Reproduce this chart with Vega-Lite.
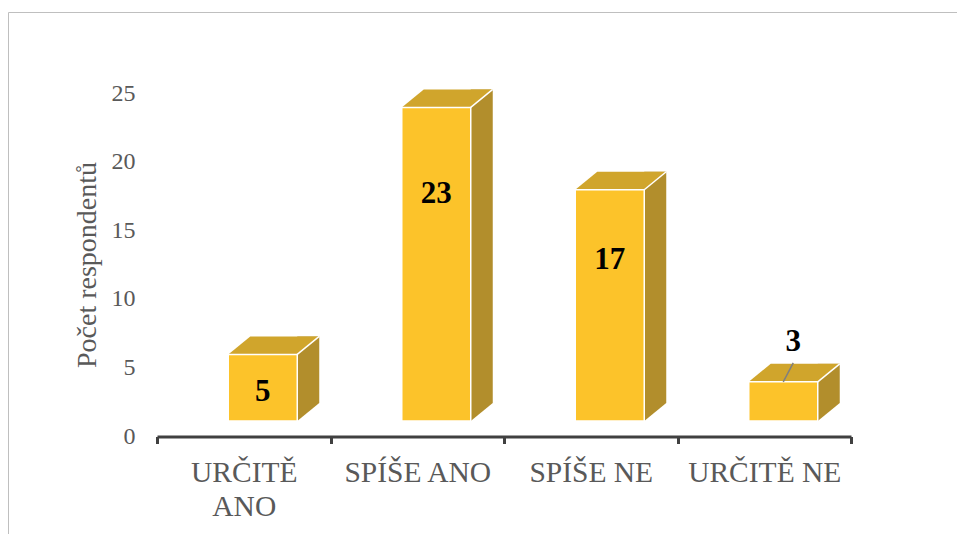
{
  "$schema": "https://vega.github.io/schema/vega-lite/v6.json",
  "width": 960,
  "height": 530,
  "autosize": "none",
  "padding": {"left": 8, "top": 12, "right": 0, "bottom": 0},
  "background": "white",
  "config": {
    "view": {"stroke": "#bfbfbf", "strokeWidth": 1},
    "font": "Liberation Serif"
  },
  "data": {
    "values": [
      {"odpoved": "URČITĚ ANO", "pocet": 5},
      {"odpoved": "SPÍŠE ANO", "pocet": 23},
      {"odpoved": "SPÍŠE NE", "pocet": 17},
      {"odpoved": "URČITĚ NE", "pocet": 3}
    ]
  },
  "encoding": {
    "x": {
      "field": "odpoved",
      "type": "nominal",
      "sort": null,
      "scale": {"range": [149, 843], "paddingInner": 0, "paddingOuter": 0},
      "axis": {
        "title": null,
        "orient": "bottom",
        "offset": -105.5,
        "domainColor": "#404040",
        "domainWidth": 3,
        "tickColor": "#404040",
        "tickWidth": 3,
        "tickSize": 7,
        "tickBand": "extent",
        "labelFont": "Liberation Serif",
        "labelFontSize": 29.5,
        "labelColor": "#595959",
        "labelPadding": 15,
        "labelLineHeight": 34,
        "labelAngle": 0,
        "labelExpr": "datum.value == 'URČITĚ ANO' ? ['URČITĚ', 'ANO'] : datum.value"
      }
    }
  },
  "layer": [
    {
      "encoding": {
        "y": {
          "field": "pocet",
          "type": "quantitative",
          "scale": {"domain": [0, 25], "range": [424, 81], "nice": false},
          "axis": {
            "title": "Počet respondentů",
            "offset": -129,
            "domain": false,
            "ticks": false,
            "grid": false,
            "values": [0, 5, 10, 15, 20, 25],
            "labelFont": "Liberation Serif",
            "labelFontSize": 24,
            "labelColor": "#595959",
            "labelPadding": 2,
            "titleFont": "Liberation Serif",
            "titleFontSize": 28,
            "titleFontWeight": "normal",
            "titleColor": "#595959",
            "titlePadding": 10
          }
        }
      },
      "layer": [
        {
          "mark": {"type": "bar", "width": 22, "xOffset": 64.5, "yOffset": -31, "y2Offset": -33, "fill": "#B28E2C", "strokeWidth": 0},
          "encoding": {"y2": {"datum": 0}}
        },
        {
          "mark": {"type": "point", "shape": "M0,0L0,-18L22,-18Z", "size": 4, "filled": true, "fill": "#B28E2C", "opacity": 1, "strokeWidth": 0, "xOffset": 53.5, "yOffset": -15},
          "encoding": {"y": {"datum": 0}}
        },
        {
          "mark": {"type": "point", "shape": "M-34.5,0L34.5,0L56.5,-18L-12.5,-18Z", "size": 4, "filled": true, "fill": "#D0A52C", "opacity": 1, "strokeWidth": 0, "xOffset": 19, "yOffset": -13}
        },
        {
          "mark": {"type": "bar", "width": 69, "xOffset": 19, "yOffset": -13, "y2Offset": -15, "fill": "#FCC32A", "stroke": "white", "strokeWidth": 1.5},
          "encoding": {"y2": {"datum": 0}}
        },
        {
          "mark": {"type": "point", "shape": "M34.5,0L56.5,-18", "size": 4, "filled": false, "stroke": "white", "strokeWidth": 1.5, "opacity": 1, "xOffset": 19, "yOffset": -13}
        },
        {
          "transform": [{"filter": "datum.pocet < 5"}],
          "mark": {"type": "point", "shape": "M0,0L10,-19", "size": 4, "filled": false, "stroke": "#7f7f7f", "strokeWidth": 1.5, "opacity": 1, "xOffset": 19, "yOffset": -13}
        },
        {
          "transform": [{"filter": "datum.pocet < 5"}],
          "mark": {"type": "text", "font": "Liberation Serif", "fontSize": 31, "fontWeight": "bold", "color": "black", "baseline": "middle", "align": "center", "xOffset": 29, "yOffset": -53},
          "encoding": {"text": {"field": "pocet", "type": "quantitative"}}
        }
      ]
    },
    {
      "transform": [{"filter": "datum.pocet >= 5"}],
      "mark": {"type": "text", "font": "Liberation Serif", "fontSize": 31, "fontWeight": "bold", "color": "black", "baseline": "middle", "align": "center", "xOffset": 19},
      "encoding": {
        "y": {"field": "pocet", "type": "quantitative", "scale": {"domain": [0, 25], "range": [435, 160], "nice": false}, "axis": null},
        "text": {"field": "pocet", "type": "quantitative"}
      }
    }
  ],
  "resolve": {"scale": {"y": "independent"}}
}
